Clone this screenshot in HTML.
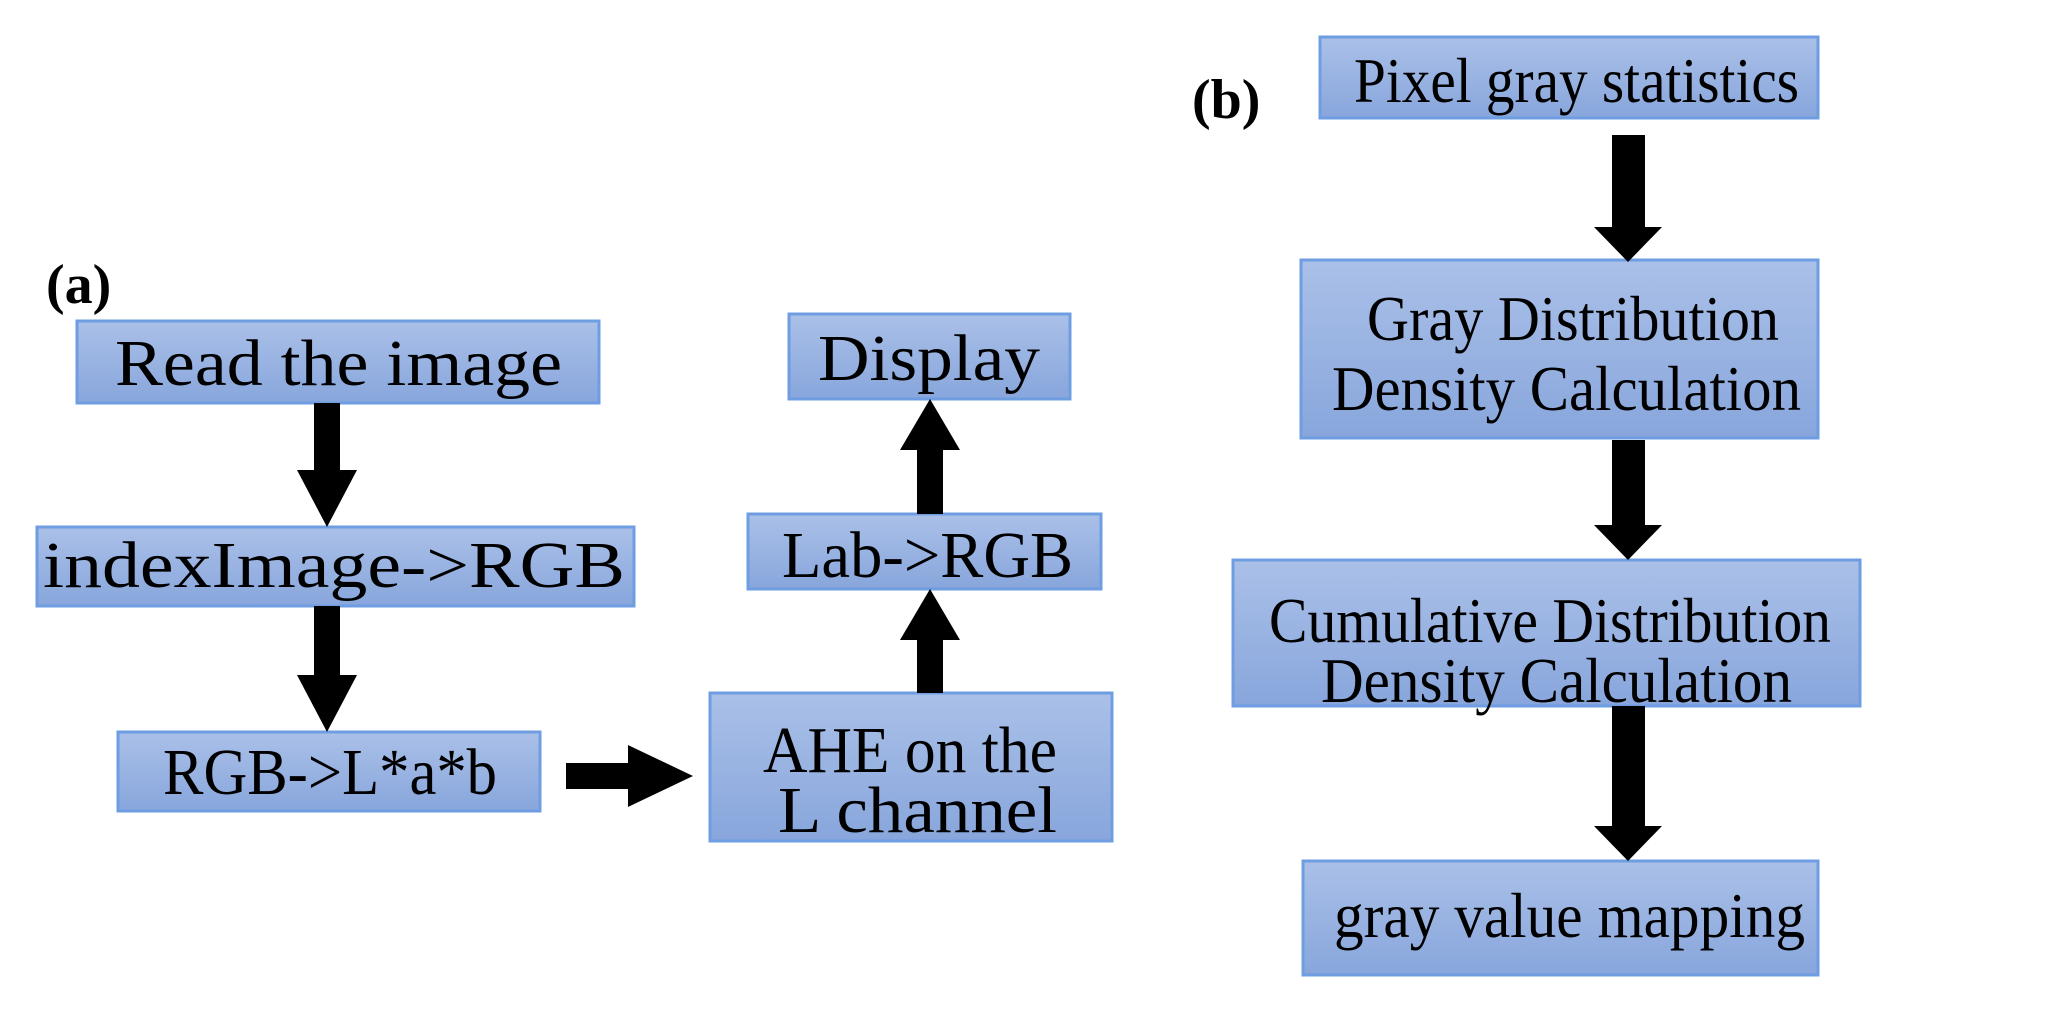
<!DOCTYPE html>
<html><head><meta charset="utf-8"><style>html,body{margin:0;padding:0;background:#fff}</style></head>
<body>
<svg width="2051" height="1021" viewBox="0 0 2051 1021" xmlns="http://www.w3.org/2000/svg" font-family="'Liberation Serif', serif" font-size="60">
<defs>
<linearGradient id="g" x1="0" y1="0" x2="0" y2="1">
<stop offset="0" stop-color="#aac0e8"/><stop offset="1" stop-color="#88a6dc"/>
</linearGradient>
</defs>
<g fill="url(#g)" stroke="#6e9de2" stroke-width="3">
<rect x="77" y="321" width="522" height="82"/>
<rect x="37" y="527" width="597" height="79"/>
<rect x="118" y="732" width="422" height="79"/>
<rect x="710" y="693" width="402" height="148"/>
<rect x="748" y="514" width="353" height="75"/>
<rect x="789" y="314" width="281" height="85"/>
<rect x="1320" y="37" width="498" height="81"/>
<rect x="1301" y="260" width="517" height="178"/>
<rect x="1233" y="560" width="627" height="146"/>
<rect x="1303" y="861" width="515" height="114"/>
</g>
<g fill="#000">
<polygon points="314,403 340,403 340,470 357,470 327,527 297,470 314,470"/>
<polygon points="314,606 340,606 340,675 357,675 327,732 297,675 314,675"/>
<polygon points="566,763 628,763 628,745 693,776 628,807 628,789 566,789"/>
<polygon points="917,693 943,693 943,640 960,640 930,589 900,640 917,640"/>
<polygon points="917,514 943,514 943,450 960,450 930,399 900,450 917,450"/>
<polygon points="1612,135 1645,135 1645,227 1662,227 1628,262 1594,227 1612,227"/>
<polygon points="1612,440 1645,440 1645,525 1662,525 1628,560 1594,525 1612,525"/>
<polygon points="1612,706 1645,706 1645,826 1662,826 1628,861 1594,826 1612,826"/>
</g>
<g fill="#000">
<text x="46" y="303" font-weight="bold" font-size="56">(a)</text>
<text x="1192" y="118" font-weight="bold" font-size="56">(b)</text>
<g font-size="66">
<text x="115" y="385" textLength="447" lengthAdjust="spacingAndGlyphs">Read the image</text>
<text x="43" y="587" textLength="582" lengthAdjust="spacingAndGlyphs">indexImage-&gt;RGB</text>
<text x="163" y="794" textLength="334" lengthAdjust="spacingAndGlyphs">RGB-&gt;L*a*b</text>
<text x="763" y="772" textLength="294" lengthAdjust="spacingAndGlyphs">AHE on the</text>
<text x="778" y="832" textLength="279" lengthAdjust="spacingAndGlyphs">L channel</text>
<text x="782" y="577" textLength="291" lengthAdjust="spacingAndGlyphs">Lab-&gt;RGB</text>
<text x="818" y="380" textLength="222" lengthAdjust="spacingAndGlyphs">Display</text>
</g>
<g font-size="64">
<text x="1354" y="102" textLength="445" lengthAdjust="spacingAndGlyphs">Pixel gray statistics</text>
<text x="1367" y="340" textLength="412" lengthAdjust="spacingAndGlyphs">Gray Distribution</text>
<text x="1332" y="410" textLength="469" lengthAdjust="spacingAndGlyphs">Density Calculation</text>
<text x="1269" y="642" textLength="562" lengthAdjust="spacingAndGlyphs">Cumulative Distribution</text>
<text x="1321" y="702" textLength="471" lengthAdjust="spacingAndGlyphs">Density Calculation</text>
<text x="1334" y="937" textLength="471" lengthAdjust="spacingAndGlyphs">gray value mapping</text>
</g>
</g>
</svg>
</body></html>
